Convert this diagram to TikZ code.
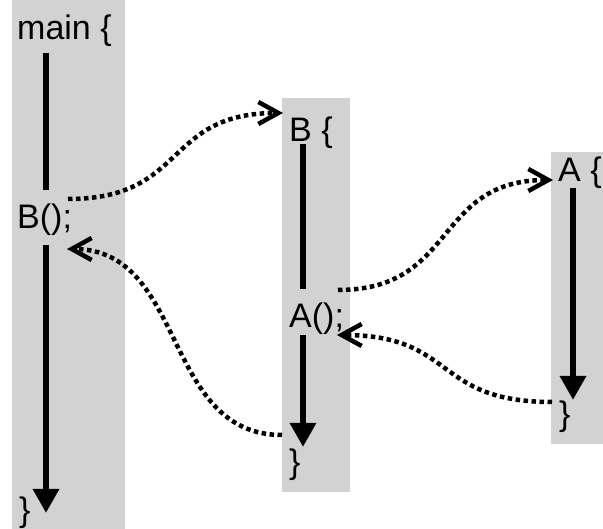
\documentclass[tikz,border=0pt]{standalone}
\usepackage{fontspec}
\setmainfont{Liberation Sans}
\usetikzlibrary{arrows.meta}
\definecolor{lane}{RGB}{210,210,210}
\begin{document}
\begin{tikzpicture}[x=1pt,y=1pt,
  code/.style={font=\fontsize{34}{40}\selectfont, anchor=base west, inner sep=0pt},
  seg/.style={line width=6pt},
  flow/.style={line width=6pt, -{Triangle[length=24pt,width=25pt]}},
  callarrow/.style={line width=4.5pt, dash pattern=on 4.5pt off 3.5pt,
    -{Straight Barb[length=20pt,width=22pt]}}]
\useasboundingbox (0,0) rectangle (603,529);

% lanes of the three functions
\fill[lane] (12,0) rectangle (125,529);
\fill[lane] (282,37) rectangle (350,431);
\fill[lane] (551,85) rectangle (603,377);

% code texts
\node[code] (mainhead) at (17,489) {main \{};
\node[code] (maincall) at (17,300) {B();};
\node[code] (mainend)  at (19,7)   {\}};
\node[code] (bhead) at (289,387) {B \{};
\node[code] (bcall) at (289,201) {A();};
\node[code] (bend)  at (289,55)  {\}};
\node[code] (ahead) at (558,347) {A \{};
\node[code] (aend)  at (559,103) {\}};

% ends of the control-flow lines
\coordinate (m1) at (46,476);
\coordinate (m2) at (46,339);
\coordinate (m3) at (46,284);
\coordinate (m4) at (46,16);
\coordinate (b1) at (303,385);
\coordinate (b2) at (303,240);
\coordinate (b3) at (303,194);
\coordinate (b4) at (303,82);
\coordinate (a1) at (573,341);
\coordinate (a2) at (573,129);

\draw[seg]  (m1) -- (m2);
\draw[flow] (m3) -- (m4);
\draw[seg]  (b1) -- (b2);
\draw[flow] (b3) -- (b4);
\draw[flow] (a1) -- (a2);

% ends of the call and return arrows
\coordinate (callB)  at (68,330);
\coordinate (enterB) at (283,416);
\coordinate (leaveB) at (282,94);
\coordinate (backB)  at (67,280);
\coordinate (callA)  at (338,239);
\coordinate (enterA) at (553,349);
\coordinate (leaveA) at (552,127);
\coordinate (backA)  at (337,194);

\draw[callarrow] (callB)  .. controls +(120,0) and +(-120,0) .. (enterB);
\draw[callarrow] (leaveB) .. controls +(-120,0) and +(120,0) .. (backB);
\draw[callarrow] (callA)  .. controls +(120,0) and +(-120,0) .. (enterA);
\draw[callarrow] (leaveA) .. controls +(-120,0) and +(120,0) .. (backA);
\end{tikzpicture}
\end{document}
